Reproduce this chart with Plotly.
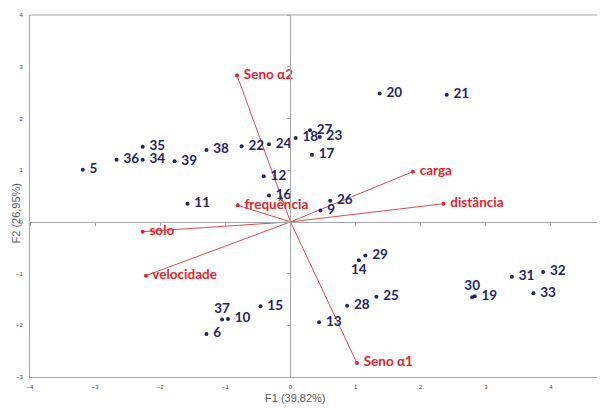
import plotly.graph_objects as go

# Observations (F1, F2)
obs_labels = ["5", "36", "35", "34", "39", "38", "22", "24", "12", "16", "11",
              "18", "27", "23", "17", "20", "21", "26", "9", "29", "14", "31",
              "32", "30", "19", "33", "25", "28", "13", "15", "37", "10", "6"]
obs_f1 = [-3.19, -2.67, -2.27, -2.27, -1.78, -1.29, -0.75, -0.33, -0.41, -0.33, -1.58,
          0.08, 0.30, 0.45, 0.33, 1.37, 2.40, 0.61, 0.46, 1.15, 1.05, 3.40,
          3.88, 2.79, 2.83, 3.73, 1.32, 0.87, 0.44, -0.46, -1.05, -0.96, -1.29]
obs_f2 = [1.01, 1.20, 1.45, 1.20, 1.17, 1.39, 1.46, 1.50, 0.88, 0.51, 0.35,
          1.62, 1.77, 1.64, 1.30, 2.48, 2.46, 0.41, 0.22, -0.65, -0.74, -1.06,
          -0.97, -1.46, -1.44, -1.38, -1.45, -1.62, -1.94, -1.63, -1.89, -1.88, -2.17]
label_above = ["30", "37"]
label_below = ["14"]

# Variables (loadings)
var_labels = ["Seno α2", "frequência", "solo", "velocidade", "carga", "distância", "Seno α1"]
var_f1 = [-0.82, -0.81, -2.27, -2.22, 1.88, 2.35, 1.02]
var_f2 = [2.83, 0.32, -0.19, -1.04, 0.97, 0.35, -2.73]

x_ticks = [-4, -3, -2, -1, 0, 1, 2, 3, 4]
y_ticks = [-3, -2, -1, 0, 1, 2, 3, 4]
x_title = "F1 (39,82%)"
y_title = "F2 (26,95%)"

NAVY = "#1f2466"
RED = "#e8202a"
LINE_RED = "#e04a50"
GRAY = "#a6a6a6"
XR = [-4, 4.83]
YR = [-3, 4]
NB = "\u00a0"

positions, obs_text = [], []
for lab in obs_labels:
    if lab in label_above:
        positions.append("top center")
        obs_text.append(lab)
    elif lab in label_below:
        positions.append("bottom center")
        obs_text.append(lab)
    else:
        positions.append("middle right")
        obs_text.append(NB + lab)

fig = go.Figure()

# vector lines from origin
lx, ly = [], []
for a, b in zip(var_f1, var_f2):
    lx += [0, a, None]
    ly += [0, b, None]
fig.add_trace(go.Scatter(x=lx, y=ly, mode="lines",
                         line=dict(color=LINE_RED, width=1), hoverinfo="skip",
                         showlegend=False))

fig.add_trace(go.Scatter(x=var_f1, y=var_f2, mode="markers+text",
                         text=[NB + v for v in var_labels],
                         textposition="middle right",
                         marker=dict(color=RED, size=4),
                         textfont=dict(family="Lato", size=13.5, color=RED, weight="bold"),
                         showlegend=False))

fig.add_trace(go.Scatter(x=obs_f1, y=obs_f2, mode="markers+text", text=obs_text,
                         textposition=positions,
                         marker=dict(color=NAVY, size=4),
                         textfont=dict(family="Lato", size=13.5, color=NAVY, weight="bold"),
                         showlegend=False))

# dummy trace for zero-line axes
fig.add_trace(go.Scatter(x=[None], y=[None], xaxis="x2", yaxis="y2",
                         showlegend=False, hoverinfo="skip"))

tickfont = dict(family="Liberation Sans", size=6, color="#404040")

fig.update_layout(
    width=597, height=400,
    margin=dict(l=22, r=0, t=7, b=31),
    paper_bgcolor="white", plot_bgcolor="white",
    xaxis=dict(range=XR, tickvals=x_ticks, showgrid=False, zeroline=False,
               showline=True, linecolor=GRAY, linewidth=1, ticks="",
               tickfont=tickfont, ticklabelstandoff=4),
    yaxis=dict(range=YR, tickvals=y_ticks, showgrid=False, zeroline=False,
               showline=True, linecolor=GRAY, linewidth=1, ticks="",
               tickfont=tickfont, ticklabelstandoff=5),
    xaxis2=dict(range=XR, overlaying="x", anchor="free",
                position=(0 - YR[0]) / (YR[1] - YR[0]),
                tickvals=x_ticks, showgrid=False, zeroline=False,
                showline=True, linecolor=GRAY, linewidth=1,
                ticks="outside", ticklen=3, tickcolor=GRAY, showticklabels=False),
    yaxis2=dict(range=YR, overlaying="y", anchor="free",
                position=(0 - XR[0]) / (XR[1] - XR[0]),
                tickvals=y_ticks, showgrid=False, zeroline=False,
                showline=True, linecolor=GRAY, linewidth=1,
                ticks="outside", ticklen=3, tickcolor=GRAY, showticklabels=False),
    shapes=[dict(type="line", xref="paper", yref="paper", x0=0, x1=1, y0=1, y1=1,
                 line=dict(color=GRAY, width=1))],
    annotations=[
        dict(text=x_title, xref="paper", yref="paper", x=0.462, y=0, yshift=-21,
             showarrow=False, yanchor="middle",
             font=dict(family="Liberation Sans", size=11, color="#595959")),
        dict(text=y_title, xref="paper", yref="paper", x=0, xshift=-13.5, y=0.453,
             showarrow=False, textangle=-90, xanchor="center",
             font=dict(family="Liberation Sans", size=11, color="#595959")),
    ],
)

fig.write_html("out.html")
